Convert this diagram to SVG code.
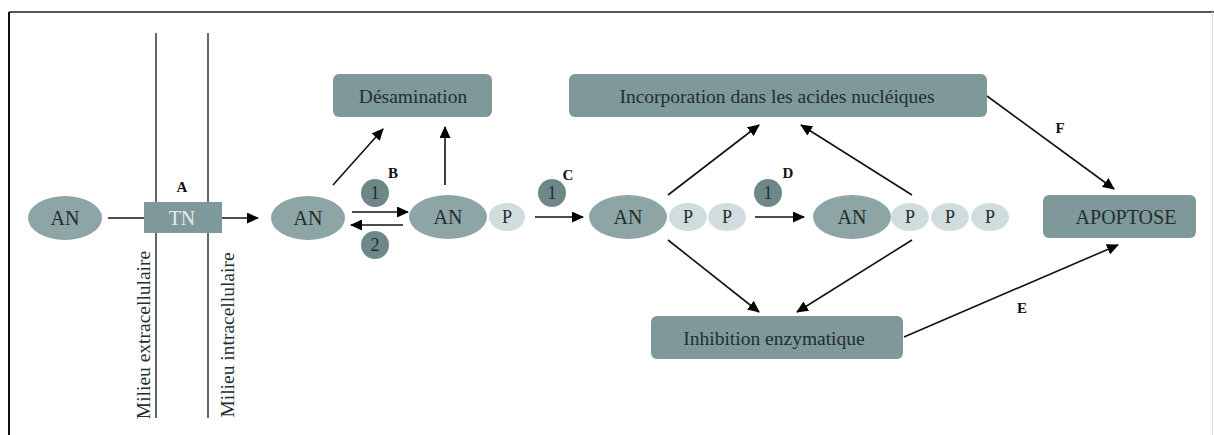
<svg xmlns="http://www.w3.org/2000/svg" width="1214" height="435" viewBox="0 0 1214 435">
<defs>
<marker id="ah" markerWidth="12" markerHeight="11" refX="11" refY="5.5" orient="auto" markerUnits="userSpaceOnUse" viewBox="0 0 12 11">
<path d="M0,0 L12,5.5 L0,11 z" fill="#000"/>
</marker>
<style>
text{fill:#222e30;text-anchor:middle;dominant-baseline:central}
.box{fill:#7f999b}
.an{fill:#8ea5a6}
.p{fill:#d0dcdd}
.num{fill:#6e888a}
.lbl{font-weight:bold;font-size:15px;fill:#111}
.bt{font-size:19.5px}
.con{stroke:#111;stroke-width:1.6;fill:none}
.arr{stroke:#111;stroke-width:1.6;fill:none;marker-end:url(#ah)}
.mem{stroke:#333;stroke-width:1.5}
</style>
</defs>
<rect width="1214" height="435" fill="#fff"/>
<g font-family="Liberation Serif, Times New Roman, serif">
<g id="frame">
<line x1="9" y1="12" x2="1214" y2="12" stroke="#555" stroke-width="2"/>
<line x1="9" y1="12" x2="9" y2="435" stroke="#111" stroke-width="2"/>
<line x1="1212.5" y1="12" x2="1212.5" y2="435" stroke="#ddd" stroke-width="1"/>
</g>
<g id="membrane">
<line class="mem" x1="156" y1="33" x2="156" y2="418"/>
<line class="mem" x1="208" y1="33" x2="208" y2="418"/>
<text x="0" y="0" font-size="19.5" transform="translate(143,335) rotate(-90)">Milieu extracellulaire</text>
<text x="0" y="0" font-size="19.5" transform="translate(227,335) rotate(-90)">Milieu intracellulaire</text>
</g>
<g id="connectors">
<line class="con" x1="108" y1="218" x2="145" y2="218"/>
<line class="arr" x1="222" y1="218" x2="258" y2="218"/>
<line class="arr" x1="333" y1="185" x2="383" y2="129"/>
<line class="arr" x1="352" y1="212" x2="408" y2="212"/>
<line class="arr" x1="403" y1="225" x2="351" y2="225"/>
<line class="arr" x1="445" y1="185" x2="445" y2="127"/>
<line class="arr" x1="535" y1="217" x2="583" y2="217"/>
<line class="arr" x1="755" y1="217" x2="804" y2="217"/>
<line class="arr" x1="668" y1="195" x2="759" y2="125"/>
<line class="arr" x1="912" y1="195" x2="801" y2="125"/>
<line class="arr" x1="668" y1="240" x2="759" y2="312"/>
<line class="arr" x1="912" y1="240" x2="797" y2="312"/>
<line class="arr" x1="987" y1="96" x2="1114" y2="189"/>
<line class="arr" x1="904" y1="337" x2="1118" y2="245"/>
</g>
<g id="an1"><ellipse class="an" cx="65" cy="218" rx="37" ry="22"/><text x="65" y="218" font-size="20">AN</text></g>
<g id="tn"><rect class="box" x="144" y="202" width="78" height="31"/><text x="182" y="218" font-size="20" style="fill:#e4ecec">TN</text></g>
<g id="labelA"><text class="lbl" x="182" y="187">A</text></g>
<g id="an2"><ellipse class="an" cx="308" cy="218" rx="37" ry="22"/><text x="308" y="218" font-size="20">AN</text></g>
<g id="desamination"><rect class="box" x="333" y="74" width="159" height="43" rx="6"/><text class="bt" x="413" y="96">Désamination</text></g>
<g id="labelB"><text class="lbl" x="393" y="173">B</text></g>
<g id="num1b"><circle class="num" cx="375" cy="193" r="14"/><text x="375" y="193" font-size="18">1</text></g>
<g id="num2b"><circle class="num" cx="375" cy="245" r="14"/><text x="375" y="245" font-size="18">2</text></g>
<g id="anp"><ellipse class="an" cx="448" cy="217" rx="39" ry="22"/><text x="448" y="217" font-size="20">AN</text>
<ellipse class="p" cx="507" cy="217" rx="18" ry="14"/><text x="507" y="217" font-size="18">P</text></g>
<g id="labelC"><text class="lbl" x="568" y="175">C</text></g>
<g id="num1c"><circle class="num" cx="552" cy="193" r="14"/><text x="552" y="193" font-size="18">1</text></g>
<g id="anpp"><ellipse class="an" cx="628" cy="217" rx="39" ry="22"/><text x="628" y="217" font-size="20">AN</text>
<ellipse class="p" cx="688" cy="217" rx="19" ry="14"/><text x="688" y="217" font-size="18">P</text>
<ellipse class="p" cx="727" cy="217" rx="19" ry="14"/><text x="727" y="217" font-size="18">P</text></g>
<g id="labelD"><text class="lbl" x="788" y="173">D</text></g>
<g id="num1d"><circle class="num" cx="768" cy="193" r="14"/><text x="768" y="193" font-size="18">1</text></g>
<g id="anppp"><ellipse class="an" cx="852" cy="217" rx="39" ry="22"/><text x="852" y="217" font-size="20">AN</text>
<ellipse class="p" cx="910" cy="217" rx="19" ry="14"/><text x="910" y="217" font-size="18">P</text>
<ellipse class="p" cx="950" cy="217" rx="19" ry="14"/><text x="950" y="217" font-size="18">P</text>
<ellipse class="p" cx="990" cy="217" rx="19" ry="14"/><text x="990" y="217" font-size="18">P</text></g>
<g id="incorporation"><rect class="box" x="569" y="74" width="418" height="43" rx="6"/><text class="bt" x="777" y="96">Incorporation dans les acides nucléiques</text></g>
<g id="inhibition"><rect class="box" x="651" y="316" width="252" height="43" rx="6"/><text class="bt" x="774" y="338">Inhibition enzymatique</text></g>
<g id="apoptose"><rect class="box" x="1043" y="195" width="153" height="43" rx="6"/><text x="1126" y="217" font-size="20">APOPTOSE</text></g>
<g id="labelF"><text class="lbl" x="1060" y="128">F</text></g>
<g id="labelE"><text class="lbl" x="1022" y="308">E</text></g>
</g>
</svg>
